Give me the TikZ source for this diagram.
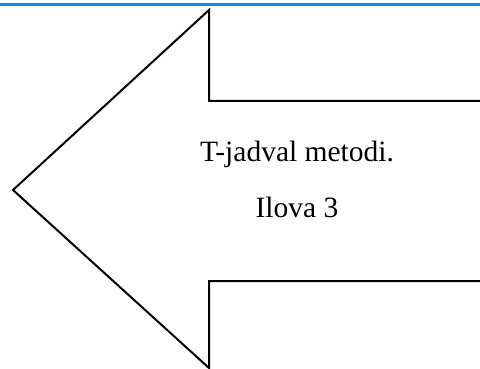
\documentclass[tikz,border=0pt]{standalone}
\usepackage{fontspec}
\setmainfont{Liberation Serif}
\definecolor{topblue}{RGB}{10,142,245}
\tikzset{
  arrowline/.style={draw=black, line width=2pt, line join=miter},
  label/.style={font=\fontsize{29.5}{35}\selectfont, inner sep=0pt, anchor=base}
}
\begin{document}
\begin{tikzpicture}[x=1pt,y=-1pt]
\useasboundingbox (0,0) rectangle (480,369);
\clip (0,0) rectangle (480,369);
\fill[white] (0,0) rectangle (480,369);
\fill[topblue] (0,3) rectangle (480,6.5);
\coordinate (s1) at (483,101);
\coordinate (s2) at (209,101);
\coordinate (h1) at (209,10);
\coordinate (tip) at (13,190);
\coordinate (h2) at (209,368);
\coordinate (s3) at (209,281);
\coordinate (s4) at (483,281);
\draw[arrowline] (s1) -- (s2) -- (h1) -- (tip) -- (h2) -- (s3) -- (s4);
\node[label] (t1) at (297,161) {T-jadval metodi.};
\node[label] (t2) at (297,218) {Ilova 3};
\end{tikzpicture}
\end{document}
